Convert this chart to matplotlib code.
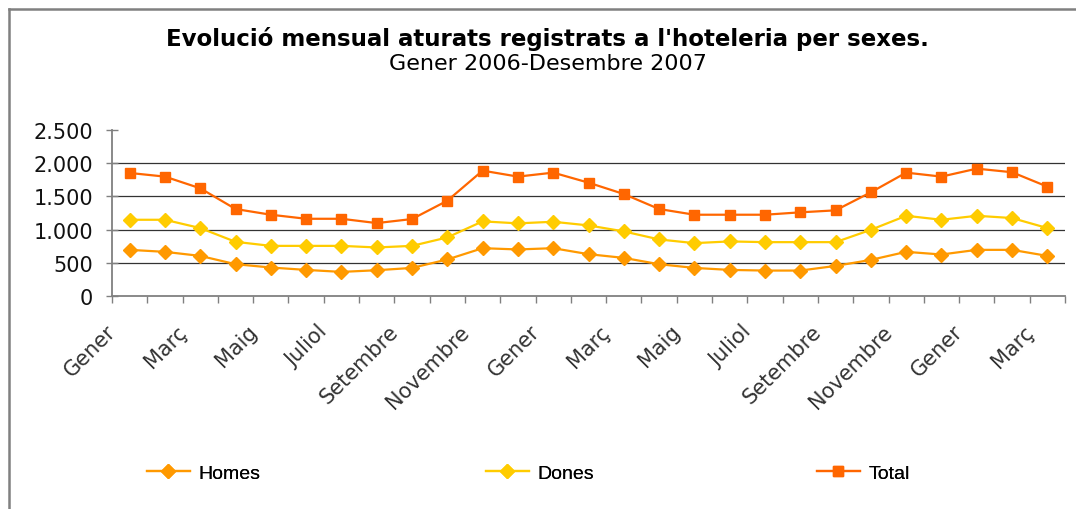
import matplotlib
matplotlib.use("Agg")
import matplotlib.pyplot as plt
from matplotlib.lines import Line2D
import matplotlib.transforms as mtransforms
import numpy as np

# ---- data ----
months = ["Gener", "Febrer", "Març", "Abril", "Maig", "Juny", "Juliol", "Agost",
          "Setembre", "Octubre", "Novembre", "Desembre",
          "Gener", "Febrer", "Març", "Abril", "Maig", "Juny", "Juliol", "Agost",
          "Setembre", "Octubre", "Novembre", "Desembre",
          "Gener", "Febrer", "Març"]
homes = [695, 665, 604, 479, 429, 393, 363, 388, 423, 550, 720, 701, 720, 630,
         574, 479, 423, 393, 383, 383, 453, 544, 665, 625, 695, 695, 604]
dones = [1148, 1148, 1023, 816, 755, 755, 755, 731, 755, 882, 1124, 1094, 1118,
         1063, 973, 852, 796, 822, 811, 811, 811, 997, 1208, 1148, 1208, 1174, 1023]
total = [1853, 1798, 1622, 1310, 1224, 1163, 1163, 1098, 1159, 1435, 1888, 1798,
         1858, 1707, 1536, 1310, 1224, 1224, 1224, 1260, 1290, 1562, 1858, 1798,
         1918, 1864, 1647]
yticks = [0, 500, 1000, 1500, 2000, 2500]
ytick_labels = ["0", "500", "1.000", "1.500", "2.000", "2.500"]

title = "Evolució mensual aturats registrats a l'hoteleria per sexes."
subtitle = "Gener 2006-Desembre 2007"

c_homes = "#FF9900"
c_dones = "#FFCC00"
c_total = "#FF6600"

fig = plt.figure(figsize=(10.76, 5.10), dpi=100)
W, H = 1076, 510
ax = fig.add_axes([112 / W, 1 - 297 / H, (1065 - 112) / W, (297 - 131) / H])

x = np.arange(len(months))
l1, = ax.plot(x, homes, color=c_homes, lw=1.6, marker="D", ms=7.5,
              markeredgecolor=c_homes, label="Homes", zorder=3)
l2, = ax.plot(x, dones, color=c_dones, lw=1.6, marker="D", ms=7.5,
              markeredgecolor=c_dones, label="Dones", zorder=3)
l3, = ax.plot(x, total, color=c_total, lw=1.6, marker="s", ms=7.8,
              markeredgecolor=c_total, label="Total", zorder=3)

ax.set_xlim(-0.5, len(months) - 0.5)
ax.set_ylim(0, 2500)
ax.set_yticks(yticks)
ax.set_yticklabels(ytick_labels, fontsize=15, family="DejaVu Sans", color="#111111")
ax.tick_params(axis="y", direction="inout", length=9, width=1, color="#808080", pad=9)

for v in yticks[1:-1]:
    ax.axhline(v, color="#333333", lw=0.9, zorder=1)

lab_idx = list(range(0, len(months), 2))
ax.set_xticks(lab_idx)
ax.set_xticklabels([months[i] for i in lab_idx], rotation=45, ha="right",
                   va="top", rotation_mode="anchor", fontsize=15,
                   family="DejaVu Sans", color="#333333")
ax.tick_params(axis="x", which="major", length=0, pad=18)
offset = mtransforms.ScaledTranslation(-0.24, 0, fig.dpi_scale_trans)
for lab in ax.get_xticklabels():
    lab.set_transform(lab.get_transform() + offset)
ax.set_xticks(np.arange(-0.5, len(months), 1.0), minor=True)
ax.tick_params(axis="x", which="minor", direction="out", length=5, width=1,
               color="#808080")

for s in ["top", "right"]:
    ax.spines[s].set_visible(False)
for s in ["left", "bottom"]:
    ax.spines[s].set_color("#808080")
    ax.spines[s].set_linewidth(1.3)

fig.text(547 / W, 1 - 39 / H, title, ha="center", va="center",
         fontsize=16.5, fontweight="bold", family="DejaVu Sans")
fig.text(548 / W, 1 - 64 / H, subtitle, ha="center", va="center",
         fontsize=16, family="DejaVu Sans")

# chart border (left and top)
fig.add_artist(Line2D([9 / W, 9 / W], [0, 1 - 10 / H], color="#808080", lw=1.8,
                      transform=fig.transFigure))
fig.add_artist(Line2D([9 / W, 1], [1 - 10 / H, 1 - 10 / H], color="#808080",
                      lw=1.8, transform=fig.transFigure))

# legends
for handle, xpos in [(l1, 147), (l2, 486), (l3, 817)]:
    leg = fig.legend([handle], [handle.get_label()], loc="center left",
                     bbox_to_anchor=(xpos / W, 1 - 474 / H), frameon=False,
                     prop={"family": "Liberation Sans", "size": 14},
                     handlelength=2.2, handletextpad=0.45, borderaxespad=0,
                     borderpad=0)
    fig.add_artist(leg)

fig.savefig("out.png", dpi=100)
